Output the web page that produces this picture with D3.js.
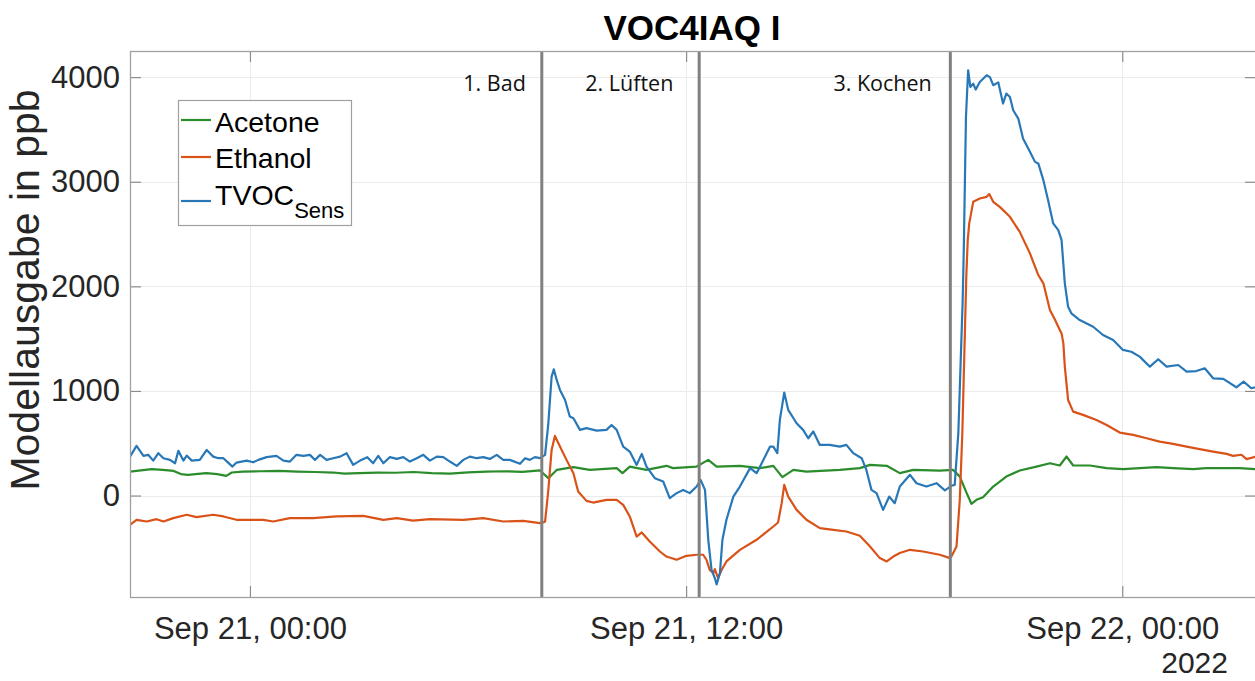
<!DOCTYPE html>
<html>
<head>
<meta charset="utf-8">
<script src="https://cdn.jsdelivr.net/npm/d3@7"></script>
<style>
  html, body { margin: 0; padding: 0; background: #fff; }
  svg { display: block; }
</style>
</head>
<body>
<svg id="chart" width="1255" height="681"></svg>
<script>
// Sensor model output, [hours since 2022-09-21 00:00, ppb]
const acetone = [
  [-3.30,229],[-3.0,240],[-2.7,252],[-2.4,245],[-2.1,235],[-1.9,205],[-1.7,198],[-1.5,205],
  [-1.2,214],[-0.9,205],[-0.65,188],[-0.5,220],[-0.2,229],[0.3,232],[0.8,236],[1.3,229],
  [1.8,225],[2.3,220],[2.6,210],[3.0,214],[3.5,220],[4.0,218],[4.5,225],[5.0,214],[5.5,210],
  [6.0,222],[6.5,229],[7.0,232],[7.5,226],[7.98,240],[8.21,166],[8.44,245],[8.90,271],
  [9.35,245],[10.09,262],[10.25,214],[10.45,277],[10.91,245],[11.46,284],[11.64,262],
  [12.29,277],[12.61,341],[12.84,277],[13.48,284],[14.03,262],[14.40,284],[14.65,176],
  [14.95,245],[15.31,229],[16.23,245],[16.78,262],[17.06,293],[17.52,284],[17.88,214],
  [18.25,245],[18.98,239],[19.35,245],[19.53,181],[19.72,23],[19.85,-79],[19.99,-41],
  [20.17,-16],[20.45,86],[20.81,181],[21.18,239],[21.64,277],[22.01,309],[22.28,287],
  [22.47,373],[22.65,287],[23.11,287],[23.57,262],[24.02,252],[24.94,271],[25.40,262],
  [25.95,252],[26.31,262],[27.23,262],[27.68,252]
];

const ethanol = [
  [-3.30,-280],[-3.12,-232],[-2.84,-248],[-2.57,-226],[-2.38,-248],[-2.11,-216],[-1.74,-184],
  [-1.47,-207],[-1.01,-184],[-0.73,-200],[-0.37,-232],[0.37,-232],[0.64,-248],[1.10,-216],
  [1.74,-216],[2.38,-200],[3.12,-194],[3.67,-232],[4.04,-216],[4.49,-239],[4.95,-226],
  [5.87,-232],[6.42,-216],[6.97,-248],[7.52,-242],[7.98,-264],[8.12,-250],[8.21,54],
  [8.30,436],[8.39,570],[8.53,468],[8.71,341],[8.90,214],[9.03,38],[9.26,-51],[9.44,-67],
  [9.81,-41],[10.09,-41],[10.27,-89],[10.45,-200],[10.64,-392],[10.78,-353],[11.00,-439],
  [11.28,-535],[11.46,-583],[11.74,-614],[12.01,-576],[12.29,-566],[12.47,-566],[12.56,-614],
  [12.65,-710],[12.75,-741],[12.79,-703],[12.88,-789],[12.98,-710],[13.11,-630],[13.48,-519],
  [13.94,-423],[14.40,-296],[14.53,-258],[14.63,-73],[14.70,102],[14.81,-10],[15.04,-137],
  [15.31,-232],[15.68,-311],[16.05,-328],[16.41,-344],[16.78,-385],[17.06,-487],[17.33,-598],
  [17.52,-630],[17.70,-583],[17.88,-550],[18.16,-519],[18.52,-535],[18.98,-566],[19.26,-598],
  [19.30,-583],[19.44,-487],[19.53,-41],[19.60,596],[19.67,1554],[19.71,2100],[19.75,2450],
  [19.79,2602],[19.90,2808],[20.08,2840],[20.27,2856],[20.34,2882],[20.45,2808],[20.63,2760],
  [20.91,2665],[21.18,2521],[21.46,2315],[21.69,2108],[21.83,2029],[22.01,1774],[22.15,1680],
  [22.24,1614],[22.33,1550],[22.38,1455],[22.42,1232],[22.51,914],[22.65,802],[22.92,771],
  [23.29,723],[23.57,675],[23.93,602],[24.30,580],[24.67,548],[25.03,516],[25.40,494],
  [25.77,468],[26.13,443],[26.50,420],[26.87,398],[27.05,379],[27.28,390],[27.42,348],[27.68,373]
];

const tvoc = [
  [-3.30,372],[-3.12,475],[-2.93,379],[-2.80,389],[-2.66,334],[-2.52,405],[-2.38,357],
  [-2.20,341],[-2.06,309],[-1.97,427],[-1.83,334],[-1.74,382],[-1.60,334],[-1.38,341],
  [-1.19,436],[-1.01,372],[-0.87,357],[-0.73,357],[-0.60,315],[-0.48,277],[-0.37,315],
  [-0.09,334],[0.09,318],[0.23,341],[0.46,367],[0.73,379],[0.92,334],[1.10,325],[1.28,389],
  [1.47,379],[1.65,389],[1.79,341],[1.93,389],[2.11,341],[2.29,357],[2.48,372],[2.66,405],
  [2.84,293],[3.03,334],[3.23,367],[3.39,309],[3.53,379],[3.67,309],[3.85,367],[4.04,350],
  [4.22,367],[4.40,325],[4.59,357],[4.77,389],[4.95,334],[5.14,372],[5.32,367],[5.50,325],
  [5.69,284],[5.87,341],[6.05,372],[6.24,357],[6.42,367],[6.60,350],[6.79,389],[6.97,341],
  [7.15,341],[7.43,303],[7.57,357],[7.70,341],[7.84,367],[7.98,357],[8.12,389],[8.21,691],
  [8.30,1137],[8.36,1207],[8.44,1105],[8.53,1010],[8.67,914],[8.80,755],[8.90,739],[9.08,628],
  [9.26,644],[9.54,621],[9.81,628],[9.95,675],[10.09,628],[10.27,468],[10.45,420],[10.64,293],
  [10.78,398],[10.91,277],[11.14,166],[11.37,134],[11.55,-25],[11.74,23],[11.92,54],[12.10,23],
  [12.29,86],[12.40,150],[12.52,54],[12.61,-423],[12.70,-710],[12.79,-789],[12.84,-850],
  [12.93,-741],[13.00,-423],[13.11,-232],[13.30,-10],[13.48,86],[13.76,262],[13.94,214],
  [14.08,309],[14.31,468],[14.40,468],[14.51,405],[14.58,723],[14.70,984],[14.81,819],
  [15.04,691],[15.22,628],[15.36,548],[15.50,612],[15.68,484],[15.95,484],[16.23,468],
  [16.41,484],[16.60,405],[16.83,357],[16.96,245],[17.10,54],[17.24,23],[17.42,-137],
  [17.59,-10],[17.74,-73],[17.88,86],[18.16,198],[18.34,118],[18.61,86],[18.89,118],
  [19.12,50],[19.30,93],[19.39,102],[19.49,596],[19.55,1232],[19.61,1869],[19.64,2347],
  [19.70,3620],[19.76,4066],[19.82,3906],[19.90,3938],[19.97,3881],[20.08,3954],[20.27,4018],
  [20.36,4000],[20.45,3923],[20.59,3950],[20.72,3748],[20.81,3843],[20.91,3810],[21.00,3684],
  [21.14,3604],[21.27,3413],[21.46,3286],[21.60,3190],[21.69,3175],[21.83,3015],[21.96,2824],
  [22.10,2602],[22.24,2538],[22.33,2443],[22.42,2029],[22.51,1805],[22.60,1742],[22.83,1678],
  [23.20,1614],[23.47,1535],[23.75,1487],[24.02,1392],[24.25,1375],[24.48,1328],[24.76,1232],
  [24.99,1303],[25.22,1232],[25.54,1248],[25.77,1184],[26.04,1190],[26.27,1217],[26.50,1121],
  [26.78,1115],[27.14,1035],[27.34,1089],[27.55,1026],[27.68,1035]
];

const seriesNames = ["Acetone", "Ethanol", "TVOC"];
const seriesColors = ["#2a8c2a", "#d95319", "#2878b8"];

// Measurement phases: start of each phase (hours) and label anchor (right edge, hours)
const eventHours = [8.03, 12.36, 19.27];
const eventLabels = ["1. Bad", "2. Lüften", "3. Kochen"];
const eventLabelHours = [7.59, 11.65, 18.76];

const yTicks = [0, 1000, 2000, 3000, 4000];
const xTickHours = [0, 12, 24];
const xDomainHours = [-3.30, 27.68];
const yDomain = [-970, 4250];

const t0 = new Date(2022, 8, 21, 0, 0);
const toDate = h => new Date(t0.getTime() + h * 3600e3);

const svg = d3.select("#chart");
const plotLeft = 130, plotRight = 1256, plotTop = 51, plotBottom = 597;

const x = d3.scaleTime().domain(xDomainHours.map(toDate)).range([plotLeft, plotRight]);
const y = d3.scaleLinear().domain(yDomain).range([plotBottom, plotTop]);

svg.append("defs").append("clipPath").attr("id", "plotClip")
  .append("rect").attr("x", plotLeft).attr("y", plotTop)
  .attr("width", plotRight - plotLeft).attr("height", plotBottom - plotTop);

// grid
const grid = svg.append("g").attr("stroke", "#ebebeb").attr("stroke-width", 1);
grid.selectAll(".gy").data(yTicks).join("line")
  .attr("x1", plotLeft).attr("x2", plotRight)
  .attr("y1", d => Math.round(y(d)) + 0.5).attr("y2", d => Math.round(y(d)) + 0.5);
grid.selectAll(".gx").data(xTickHours).join("line")
  .attr("y1", plotTop).attr("y2", plotBottom)
  .attr("x1", d => Math.round(x(toDate(d))) + 0.5).attr("x2", d => Math.round(x(toDate(d))) + 0.5);

// data lines
const line = d3.line().x(d => x(toDate(d[0]))).y(d => y(d[1]));
const plot = svg.append("g").attr("clip-path", "url(#plotClip)");
[acetone, ethanol, tvoc].forEach((data, i) => {
  plot.append("path").datum(data)
    .attr("fill", "none")
    .attr("stroke", seriesColors[i])
    .attr("stroke-width", 2.2)
    .attr("stroke-linejoin", "round")
    .attr("d", line);
});

// phase separators
plot.selectAll(".ev").data(eventHours).join("line")
  .attr("x1", d => x(toDate(d))).attr("x2", d => x(toDate(d)))
  .attr("y1", plotTop).attr("y2", plotBottom)
  .attr("stroke", "#808080").attr("stroke-width", 3);

svg.selectAll(".evl").data(eventLabels).join("text")
  .attr("x", (d, i) => x(toDate(eventLabelHours[i])))
  .attr("y", 91)
  .attr("text-anchor", "end")
  .attr("font-family", "'Open Sans', 'Noto Sans', sans-serif")
  .attr("font-size", 21.5)
  .attr("fill", "#111")
  .text(d => d);

// axes
const fmt = d3.timeFormat("%b %d, %H:%M");
const axisFont = "'Liberation Sans', Arial, sans-serif";

const xAxis = svg.append("g").attr("transform", `translate(0,${plotBottom})`)
  .call(d3.axisBottom(x).tickValues(xTickHours.map(toDate)).tickFormat(fmt)
    .tickSizeInner(-11).tickSizeOuter(0).tickPadding(20));
const yAxis = svg.append("g").attr("transform", `translate(${plotLeft},0)`)
  .call(d3.axisLeft(y).tickValues(yTicks).tickFormat(d3.format("d"))
    .tickSizeInner(-11).tickSizeOuter(0).tickPadding(10));
const yAxisR = svg.append("g").attr("transform", `translate(${plotRight},0)`)
  .call(d3.axisRight(y).tickValues(yTicks).tickSizeInner(-11).tickSizeOuter(0).tickFormat(""));
const xAxisT = svg.append("g").attr("transform", `translate(0,${plotTop})`)
  .call(d3.axisTop(x).tickValues(xTickHours.map(toDate)).tickSizeInner(-11).tickSizeOuter(0).tickFormat(""));

[xAxis, yAxis, yAxisR, xAxisT].forEach(g => {
  g.select(".domain").remove();
  g.selectAll(".tick line").attr("stroke", "#8c8c8c").attr("stroke-width", 1.2);
  g.selectAll("text").attr("font-family", axisFont).attr("font-size", 31).attr("fill", "#262626");
});

// axes box
svg.append("rect").attr("x", plotLeft + 0.5).attr("y", plotTop + 0.5)
  .attr("width", plotRight - plotLeft).attr("height", plotBottom - plotTop)
  .attr("fill", "none").attr("stroke", "#a0a0a0").attr("stroke-width", 1.3);

svg.append("text").attr("x", 1228).attr("y", 673).attr("text-anchor", "end")
  .attr("font-family", axisFont).attr("font-size", 30).attr("fill", "#262626").text("2022");

// axis title and chart title
svg.append("text")
  .attr("transform", "translate(39,290) rotate(-90)")
  .attr("text-anchor", "middle")
  .attr("font-family", axisFont).attr("font-size", 41).attr("fill", "#262626")
  .text("Modellausgabe in ppb");

svg.append("text").attr("x", 692).attr("y", 40).attr("text-anchor", "middle")
  .attr("font-family", axisFont).attr("font-size", 35).attr("font-weight", "bold").attr("fill", "#000")
  .text("VOC4IAQ I");

// legend
const lg = svg.append("g");
lg.append("rect").attr("x", 178.5).attr("y", 100.5).attr("width", 173).attr("height", 125)
  .attr("fill", "#fff").attr("stroke", "#a0a0a0").attr("stroke-width", 1.2);
const legendLineY = [120, 157, 201];
const legendTextY = [132, 168, 205];
seriesNames.forEach((name, i) => {
  lg.append("line").attr("x1", 181).attr("x2", 211)
    .attr("y1", legendLineY[i]).attr("y2", legendLineY[i])
    .attr("stroke", seriesColors[i]).attr("stroke-width", 2.2);
  const t = lg.append("text").attr("x", 215).attr("y", legendTextY[i])
    .attr("font-family", axisFont).attr("font-size", 28.5).attr("fill", "#000");
  t.append("tspan").text(name);
  if (name === "TVOC") {
    t.append("tspan").attr("font-size", 22).attr("dy", 13).text("Sens");
  }
});
</script>
</body>
</html>
